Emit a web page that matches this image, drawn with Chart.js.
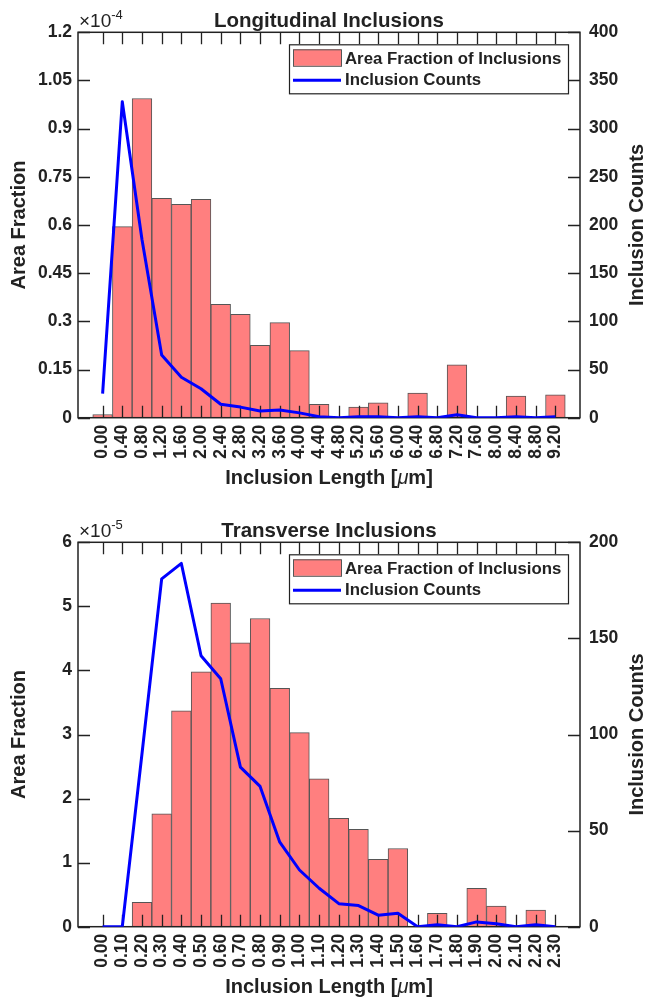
<!DOCTYPE html>
<html>
<head>
<meta charset="utf-8">
<script src="https://cdn.jsdelivr.net/npm/chart.js@4.4.1/dist/chart.umd.min.js"></script>
<style>
  body { margin: 0; background: #fff; }
  canvas { display: block; }
</style>
</head>
<body>
<canvas id="longChart" width="648" height="500"></canvas>
<canvas id="transChart" width="648" height="500"></canvas>
<script>
// ---- Longitudinal inclusions (area fraction in units of 1e-4) ----
const binLabelsLong = ['0.00', '0.40', '0.80', '1.20', '1.60', '2.00', '2.40', '2.80', '3.20', '3.60', '4.00', '4.40',
                       '4.80', '5.20', '5.60', '6.00', '6.40', '6.80', '7.20', '7.60', '8.00', '8.40', '8.80', '9.20'];
const areaFracLong = [0.01, 0.595, 0.994, 0.683, 0.664, 0.680, 0.353, 0.322, 0.225, 0.296, 0.209, 0.042,
                      0, 0.033, 0.046, 0, 0.077, 0, 0.165, 0, 0, 0.067, 0, 0.071];
const countsLong = [25, 328, 185, 65, 42, 30, 14, 11, 7, 8, 5, 1,
                    0, 1, 1, 0, 1, 0, 3, 0, 0, 1, 0, 1];
const areaTicksLong = [0, 0.15, 0.3, 0.45, 0.6, 0.75, 0.9, 1.05, 1.2];
const countTicksLong = [0, 50, 100, 150, 200, 250, 300, 350, 400];

// ---- Transverse inclusions (area fraction in units of 1e-5) ----
const binLabelsTrans = ['0.00', '0.10', '0.20', '0.30', '0.40', '0.50', '0.60', '0.70', '0.80', '0.90', '1.00', '1.10',
                        '1.20', '1.30', '1.40', '1.50', '1.60', '1.70', '1.80', '1.90', '2.00', '2.10', '2.20', '2.30'];
const areaFracTrans = [0, 0, 0.38, 1.76, 3.37, 3.98, 5.05, 4.43, 4.81, 3.72, 3.03, 2.31,
                       1.69, 1.52, 1.05, 1.22, 0, 0.21, 0, 0.60, 0.32, 0, 0.26, 0];
const countsTrans = [0, 0, 90, 181, 189, 141, 129, 83, 73, 44, 29.5, 20,
                     12, 11, 6, 7, 0, 1, 0, 2.5, 1.5, 0, 1, 0];
const areaTicksTrans = [0, 1, 2, 3, 4, 5, 6];
const countTicksTrans = [0, 50, 100, 150, 200];

const INK = '#222222';
const FONT = "'Liberation Sans', Arial, Helvetica, sans-serif";
const BAR_FILL = '#ff7f7f';
const BAR_EDGE = '#555555';
const LINE_BLUE = '#0000ff';

// draws the MATLAB-like box, inward ticks, legend and extra labels
const framePlugin = {
    id: 'frame',
    afterDatasetDraw(chart, args, opts) {
        if (args.meta.type !== 'bar') return;
        const {ctx, chartArea: a, scales} = chart;
        const T = 12;
        ctx.save();
        ctx.strokeStyle = INK;
        ctx.lineWidth = 1.3;
        ctx.beginPath();
        scales.x.ticks.forEach(t => {
            const px = Math.round(scales.x.getPixelForValue(t.value)) + 0.5;
            ctx.moveTo(px, a.bottom); ctx.lineTo(px, a.bottom - T);
            ctx.moveTo(px, a.top); ctx.lineTo(px, a.top + T);
        });
        scales.y.ticks.forEach(t => {
            const py = Math.round(scales.y.getPixelForValue(t.value)) + 0.5;
            ctx.moveTo(a.left, py); ctx.lineTo(a.left + T, py);
        });
        scales.y1.ticks.forEach(t => {
            const py = Math.round(scales.y1.getPixelForValue(t.value)) + 0.5;
            ctx.moveTo(a.right, py); ctx.lineTo(a.right - T, py);
        });
        ctx.stroke();
        ctx.lineWidth = 1.5;
        ctx.strokeRect(a.left, a.top, a.right - a.left, a.bottom - a.top);
        ctx.restore();
    },
    afterDraw(chart, args, opts) {
        const {ctx, chartArea: a} = chart;
        ctx.save();
        ctx.fillStyle = INK;

        // title
        ctx.font = 'bold 20.5px ' + FONT;
        ctx.textAlign = 'center';
        ctx.textBaseline = 'alphabetic';
        ctx.fillText(opts.title, (a.left + a.right) / 2, a.top - 5.6);

        // exponent label
        ctx.textAlign = 'left';
        ctx.font = '19px ' + FONT;
        const base = '\u00d710';
        ctx.fillText(base, a.left + 1, a.top - 5.6);
        const w = ctx.measureText(base).width;
        ctx.font = '13px ' + FONT;
        ctx.fillText(opts.exponent, a.left + 1 + w, a.top - 13);

        // x axis title with italic mu
        const parts = [['Inclusion Length [', 'bold 20px ' + FONT],
                       ['\u03bc', 'italic 20px ' + FONT],
                       ['m]', 'bold 20px ' + FONT]];
        let total = 0;
        parts.forEach(p => { ctx.font = p[1]; total += ctx.measureText(p[0]).width; });
        let x = (a.left + a.right) / 2 - total / 2;
        ctx.textBaseline = 'middle';
        parts.forEach(p => {
            ctx.font = p[1];
            ctx.fillText(p[0], x, opts.xTitleY);
            x += ctx.measureText(p[0]).width;
        });

        // right axis title (reads bottom to top)
        ctx.save();
        ctx.translate(637.5, (a.top + a.bottom) / 2);
        ctx.rotate(-Math.PI / 2);
        ctx.font = 'bold 20px ' + FONT;
        ctx.textAlign = 'center';
        ctx.textBaseline = 'middle';
        ctx.fillText('Inclusion Counts', 0, 0);
        ctx.restore();

        // legend
        const L = a.left + 211, Tp = a.top + 12, W = 279, H = 49;
        ctx.fillStyle = '#ffffff';
        ctx.fillRect(L, Tp, W, H);
        ctx.strokeStyle = INK;
        ctx.lineWidth = 1.2;
        ctx.strokeRect(L + 0.5, Tp + 0.5, W, H);
        ctx.fillStyle = BAR_FILL;
        ctx.fillRect(L + 4, Tp + 5, 48, 16.5);
        ctx.strokeStyle = BAR_EDGE;
        ctx.lineWidth = 1;
        ctx.strokeRect(L + 4.5, Tp + 5.5, 48, 16.5);
        ctx.strokeStyle = LINE_BLUE;
        ctx.lineWidth = 3;
        ctx.beginPath();
        ctx.moveTo(L + 4, Tp + 36);
        ctx.lineTo(L + 52, Tp + 36);
        ctx.stroke();
        ctx.fillStyle = INK;
        ctx.font = 'bold 16.8px ' + FONT;
        ctx.textAlign = 'left';
        ctx.textBaseline = 'middle';
        ctx.fillText('Area Fraction of Inclusions', L + 56, Tp + 15);
        ctx.fillText('Inclusion Counts', L + 56, Tp + 36.5);
        ctx.restore();
    }
};

function makeChart(id, cfg) {
    const xs = cfg.labels.map(parseFloat);
    const tickFont = {family: FONT, size: 17.5, weight: 'bold'};
    const titleFont = {family: FONT, size: 20, weight: 'bold'};
    return new Chart(document.getElementById(id).getContext('2d'), {
        type: 'bar',
        data: {
            datasets: [
                {
                    type: 'line',
                    label: 'Inclusion Counts',
                    data: xs.map((x, i) => ({x: x, y: cfg.counts[i]})),
                    yAxisID: 'y1',
                    borderColor: LINE_BLUE,
                    borderWidth: 3,
                    borderJoinStyle: 'round',
                    pointRadius: 0,
                    tension: 0,
                    order: 0
                },
                {
                    type: 'bar',
                    label: 'Area Fraction of Inclusions',
                    data: xs.map((x, i) => ({x: x, y: cfg.area[i]})),
                    yAxisID: 'y',
                    backgroundColor: BAR_FILL,
                    borderColor: BAR_EDGE,
                    borderWidth: 1,
                    borderSkipped: false,
                    barPercentage: 1,
                    categoryPercentage: 1,
                    order: 1
                }
            ]
        },
        options: {
            responsive: false,
            animation: false,
            layout: {padding: {top: cfg.padTop, left: 0, right: 0, bottom: 0}},
            plugins: {
                legend: {display: false},
                tooltip: {enabled: false},
                frame: {title: cfg.title, exponent: cfg.exponent, xTitleY: cfg.xTitleY}
            },
            scales: {
                x: {
                    type: 'linear',
                    offset: false,
                    min: cfg.xMin,
                    max: cfg.xMax,
                    grid: {display: false, drawTicks: false},
                    border: {display: false},
                    afterBuildTicks: s => { s.ticks = xs.map(v => ({value: v})); },
                    afterFit: s => { s.height = cfg.xAxisH; },
                    ticks: {
                        autoSkip: false, minRotation: 90, maxRotation: 90, padding: 7,
                        color: INK, font: tickFont,
                        callback: (v, i) => cfg.labels[i]
                    }
                },
                y: {
                    position: 'left',
                    min: 0,
                    max: cfg.areaTicks[cfg.areaTicks.length - 1],
                    grid: {display: false, drawTicks: false},
                    border: {display: false},
                    afterBuildTicks: s => { s.ticks = cfg.areaTicks.map(v => ({value: v})); },
                    afterFit: s => { s.width = 78; },
                    ticks: {
                        autoSkip: false, padding: 6, color: INK, font: tickFont,
                        callback: v => String(+v.toFixed(2))
                    },
                    title: {
                        display: true, text: 'Area Fraction', color: INK, font: titleFont,
                        padding: {top: 7, bottom: 0}
                    }
                },
                y1: {
                    position: 'right',
                    min: 0,
                    max: cfg.countTicks[cfg.countTicks.length - 1],
                    grid: {display: false, drawTicks: false},
                    border: {display: false},
                    afterBuildTicks: s => { s.ticks = cfg.countTicks.map(v => ({value: v})); },
                    afterFit: s => { s.width = 68; },
                    ticks: {
                        autoSkip: false, padding: 9, color: INK, font: tickFont,
                        callback: v => String(v)
                    }
                }
            }
        },
        plugins: [framePlugin]
    });
}

makeChart('longChart', {
    labels: binLabelsLong, area: areaFracLong, counts: countsLong,
    areaTicks: areaTicksLong, countTicks: countTicksLong,
    xMin: -0.5, xMax: 9.7,
    title: 'Longitudinal Inclusions', exponent: '-4',
    padTop: 32.3, xAxisH: 82.3, xTitleY: 478.5
});

makeChart('transChart', {
    labels: binLabelsTrans, area: areaFracTrans, counts: countsTrans,
    areaTicks: areaTicksTrans, countTicks: countTicksTrans,
    xMin: -0.125, xMax: 2.425,
    title: 'Transverse Inclusions', exponent: '-5',
    padTop: 42.3, xAxisH: 73.3, xTitleY: 487.5
});
</script>
</body>
</html>
